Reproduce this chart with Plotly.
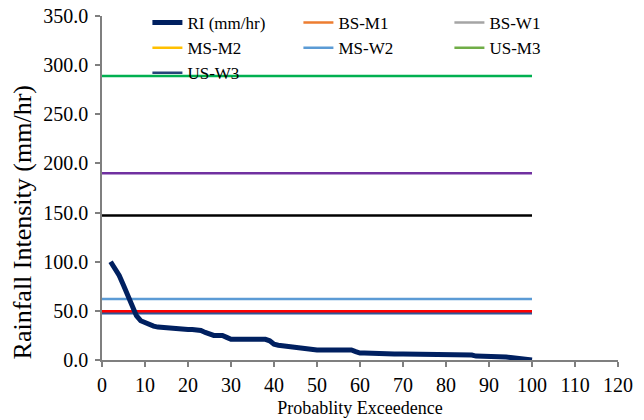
import plotly.graph_objects as go

# Rainfall intensity exceedance curve
ri_x = [2, 3, 4, 5, 6, 7, 8, 9, 10, 11, 12, 13, 14, 15, 16, 17, 18, 19, 20, 21,
        22, 23, 24, 25, 26, 27, 28, 29, 30, 31, 32, 33, 34, 35, 36, 37, 38, 39, 40,
        41, 42, 43, 44, 45, 46, 47, 48, 49, 50, 52, 54, 56, 58, 59, 60, 61, 62, 63,
        64, 66, 68, 70, 72, 74, 76, 78, 80, 82, 84, 85, 86, 87, 88, 90, 92, 93, 94,
        95, 96, 97, 98, 99, 100]
ri_y = [100, 93, 86, 76, 66, 56, 45, 40, 38, 36, 34.5, 33.5, 33, 33, 33, 32.5, 31.5, 31, 31, 31,
        30.5, 30, 28, 26, 25, 25, 25, 23, 21, 21, 21, 21, 21, 21, 21, 21, 21, 19.5, 16,
        15, 14.5, 14, 13, 12, 11.5, 11, 10.5, 10.2, 10.2, 10.2, 10.2, 10.2, 10.2, 8.5, 7, 7, 6.8, 6,
        6, 6, 6, 6, 6, 6, 6, 6, 6, 6, 6, 6, 5, 4, 4, 4, 4, 4, 3,
        2.5, 2, 1.5, 1.3, 0.8, 0]

# Reference levels
ref_names = ["BS-M1", "BS-W1", "MS-M2", "MS-W2", "US-M3", "US-W3"]
ref_values = [49.5, 147, 190, 62, 289, 47.5]
ref_line_colors = ["#FF0000", "#000000", "#7030A0", "#5B9BD5", "#00B050", "#2F5597"]
ref_legend_colors = ["#ED7D31", "#A5A5A5", "#FFC000", "#5B9BD5", "#70AD47", "#264478"]
ref_x_span = [0, 100]

x_ticks = [0, 10, 20, 30, 40, 50, 60, 70, 80, 90, 100, 110, 120]
y_ticks = [0, 50, 100, 150, 200, 250, 300, 350]

x_title = "Probablity Exceedence"
y_title = "Rainfall Intensity (mm/hr)"

FONT = "Times New Roman, Liberation Serif, serif"
fig = go.Figure()

# draw order: reference lines first, RI on top
order = [5, 0, 3, 1, 2, 4]
for i in order:
    fig.add_trace(go.Scatter(
        x=ref_x_span, y=[ref_values[i]] * 2, mode="lines",
        line=dict(color=ref_line_colors[i], width=2.5),
        showlegend=False, hoverinfo="skip"))

fig.add_trace(go.Scatter(
    x=ri_x, y=ri_y, mode="lines", name="RI (mm/hr)",
    line=dict(color="#002060", width=5), showlegend=True))

for i in range(len(ref_names)):
    fig.add_trace(go.Scatter(
        x=[None], y=[None], mode="lines", name=ref_names[i],
        line=dict(color=ref_legend_colors[i], width=2.5)))

axis_common = dict(
    showgrid=False, zeroline=False, showline=True, linecolor="#7f7f7f", linewidth=1.5,
    ticks="outside", ticklen=5, tickcolor="#7f7f7f", tickwidth=1.5, automargin=False,
    tickfont=dict(family=FONT, size=20, color="black"),
)

fig.update_layout(
    width=644, height=420,
    margin=dict(l=102, r=26, t=16, b=60, autoexpand=False),
    paper_bgcolor="white", plot_bgcolor="white",
    font=dict(family=FONT, size=18, color="black"),
    xaxis=dict(range=[0, 120], tickvals=x_ticks, ticklabelstandoff=1,
               title=dict(text=x_title, font=dict(family=FONT, size=18), standoff=7),
               **axis_common),
    yaxis=dict(range=[0, 350], tickvals=y_ticks, tickformat=".1f", ticklabelstandoff=3,
               **axis_common),
    legend=dict(orientation="h", x=0.088, y=1.032, xanchor="left", yanchor="top",
                bgcolor="rgba(0,0,0,0)", font=dict(family=FONT, size=17),
                entrywidth=106, entrywidthmode="pixels", itemwidth=30,
                tracegroupgap=0, traceorder="normal"),
    annotations=[dict(text=y_title, textangle=-90, xref="paper", yref="paper",
                      x=-0.155, y=0.40, xanchor="center", yanchor="middle",
                      showarrow=False, font=dict(family=FONT, size=26, color="black"))],
)

fig.write_html("out.html")
